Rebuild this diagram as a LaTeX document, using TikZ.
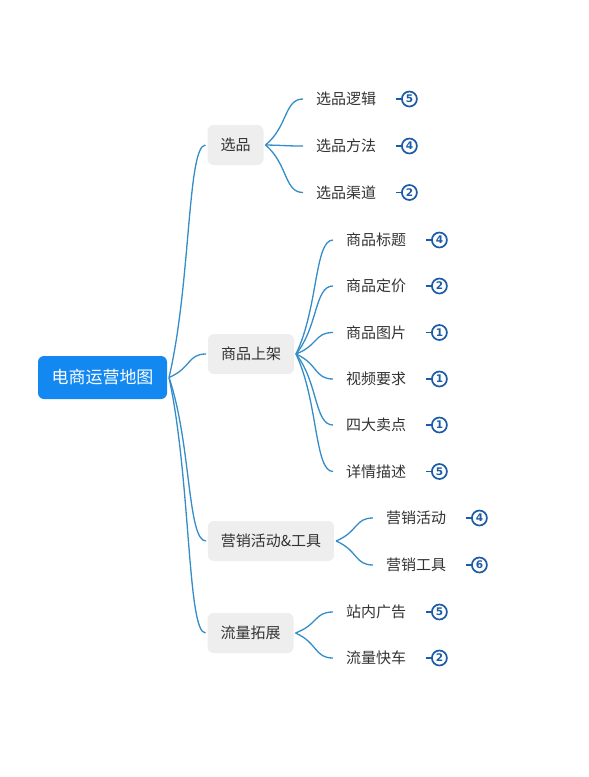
\documentclass[tikz,border=0pt]{standalone}
\usepackage{fontspec}
\setmainfont{Noto Sans CJK SC}
\newfontfamily\badgefont{DejaVu Sans}
\usetikzlibrary{calc}
\definecolor{rootblue}{RGB}{18,136,240}
\definecolor{linkblue}{RGB}{52,140,200}
\definecolor{badgeblue}{RGB}{28,92,166}
\definecolor{topicgray}{RGB}{238,238,238}
\definecolor{txtgray}{RGB}{51,51,51}
\begin{document}
\begin{tikzpicture}[x=1pt,y=-1pt,
  rootnode/.style={fill=rootblue, rounded corners=6pt, text=white,
    font=\fontsize{17}{20}\selectfont, minimum width=129pt, minimum height=43pt,
    inner sep=0pt, outer xsep=2pt},
  topic/.style={fill=topicgray, rounded corners=6pt, text=txtgray,
    font=\fontsize{15}{18}\selectfont, minimum height=40pt,
    inner xsep=13pt, inner ysep=0pt, outer xsep=2pt},
  sub/.style={text=txtgray, font=\fontsize{15}{18}\selectfont,
    inner xsep=13pt, inner ysep=2pt, anchor=west},
  badge/.style={circle, draw=badgeblue, line width=1.7pt, minimum size=15pt,
    inner sep=0pt, text=badgeblue, font=\badgefont\bfseries\fontsize{10.5}{10.5}\selectfont},
  link/.style={draw=linkblue, line width=1.3pt,
    to path={let \p1=(\tikztostart), \p2=(\tikztotarget) in
      .. controls ({\x1+0.6*(\x2-\x1)},{\y1+0.4*(\y2-\y1)})
      and ({\x2-0.5*(\x2-\x1)},{\y2}) .. (\tikztotarget)}},
  tick/.style={draw=badgeblue, line width=1.5pt, shorten <=7pt}
]
\useasboundingbox (0,0) rectangle (589,777);

% root
\node[rootnode] (root) at (102.5,377.5) {电商运营地图};

% level 1
\node[topic] (t1) at (235.5,145) {选品};
\node[topic] (t2) at (251,354) {商品上架};
\node[topic] (t3) at (271,541) {营销活动\&工具};
\node[topic] (t4) at (250.5,633) {流量拓展};

% level 2
\node[sub] (s11) at (303,99) {选品逻辑};
\node[sub] (s12) at (303,146) {选品方法};
\node[sub] (s13) at (303,192.5) {选品渠道};

\node[sub] (s21) at (333,240) {商品标题};
\node[sub] (s22) at (333,286) {商品定价};
\node[sub] (s23) at (333,332.5) {商品图片};
\node[sub] (s24) at (333,379) {视频要求};
\node[sub] (s25) at (333,425) {四大卖点};
\node[sub] (s26) at (333,471.5) {详情描述};

\node[sub] (s31) at (373,518) {营销活动};
\node[sub] (s32) at (373,565) {营销工具};

\node[sub] (s41) at (333,612) {站内广告};
\node[sub] (s42) at (333,658) {流量快车};

% badges
\foreach \n/\v in {s11/5,s12/4,s13/2,s21/4,s22/2,s23/1,s24/1,s25/1,s26/5,s31/4,s32/6,s41/5,s42/2}{
  \node[badge] (b\n) at ($(\n.east)+(20,0)$) {\v};
  \draw[tick] (\n.east) -- (b\n.west);
}

% connectors root -> level 1
\foreach \t in {t1,t2,t3,t4}{
  \draw[link] (root.east) to (\t.west);
}
% level 1 -> level 2
\foreach \s in {s11,s12,s13}{ \draw[link] (t1.east) to (\s.west); }
\foreach \s in {s21,s22,s23,s24,s25,s26}{ \draw[link] (t2.east) to (\s.west); }
\foreach \s in {s31,s32}{ \draw[link] (t3.east) to (\s.west); }
\foreach \s in {s41,s42}{ \draw[link] (t4.east) to (\s.west); }
\end{tikzpicture}
\end{document}
